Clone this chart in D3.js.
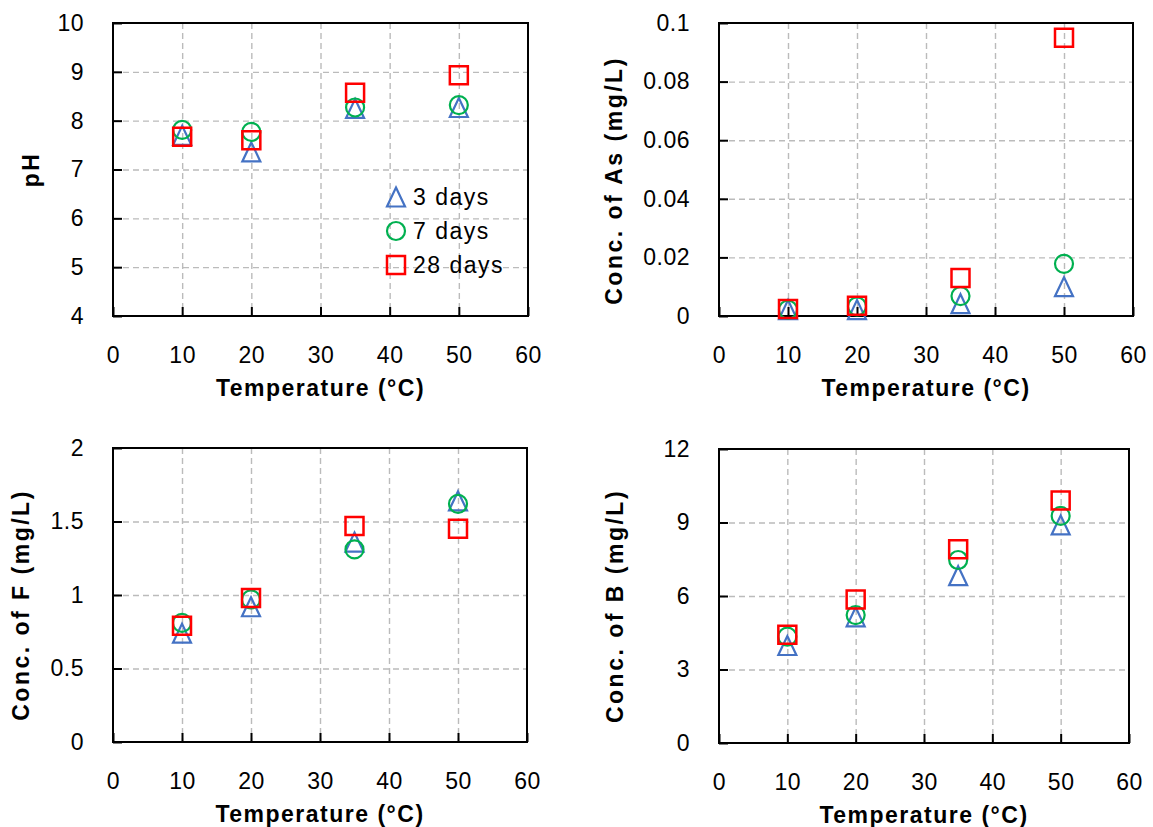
<!DOCTYPE html>
<html>
<head>
<meta charset="utf-8">
<script src="https://cdn.jsdelivr.net/npm/d3@7"></script>
<style>
  body { margin: 0; background: #fff; }
  svg { font-family: "Liberation Sans", Arial, sans-serif; }
  .grid line { stroke: #bbbbbb; stroke-width: 1.4; stroke-dasharray: 6,4; }
  .grid .domain { display: none; }
  .axis .domain { display: none; }
  .axis line { stroke: #000; stroke-width: 2; }
  .axis text { font-size: 23px; fill: #000; letter-spacing: 0.5px; }
  .title { font-size: 23px; font-weight: bold; fill: #000; letter-spacing: 1.5px; }
  .ytitle { letter-spacing: 2.5px; }
</style>
</head>
<body>
<div id="chart"></div>
<script>
'use strict';

// temperatures (deg C) shared by every panel
const temps = [10, 20, 35, 50];
const xTicks = [0, 10, 20, 30, 40, 50, 60];
const seriesNames = ['3 days', '7 days', '28 days'];

// pH
const ph3 = [7.70, 7.36, 8.25, 8.27];
const ph7 = [7.81, 7.77, 8.27, 8.32];
const ph28 = [7.67, 7.60, 8.57, 8.93];
const phTicks = [4, 5, 6, 7, 8, 9, 10];

// As (mg/L)
const as3 = [0.0022, 0.0022, 0.0042, 0.0100];
const as7 = [0.0022, 0.0033, 0.0068, 0.0178];
const as28 = [0.0024, 0.0035, 0.0130, 0.0950];
const asTicks = [0, 0.02, 0.04, 0.06, 0.08, 0.1];

// F (mg/L)
const f3 = [0.74, 0.92, 1.36, 1.64];
const f7 = [0.81, 0.97, 1.31, 1.62];
const f28 = [0.79, 0.98, 1.47, 1.45];
const fTicks = [0, 0.5, 1, 1.5, 2];

// B (mg/L)
const b3 = [3.98, 5.15, 6.83, 8.90];
const b7 = [4.34, 5.22, 7.47, 9.27];
const b28 = [4.42, 5.86, 7.91, 9.90];
const bTicks = [0, 3, 6, 9, 12];

const colors = { tri: '#4472C4', circ: '#00B050', sq: '#FF0000' };

const W = 1153, H = 827;
const svg = d3.select('#chart').append('svg').attr('width', W).attr('height', H);

const markerPath = {
    tri: 'M0,-9.5L9,9.5L-9,9.5Z',
    circ: d3.arc()({ innerRadius: 0, outerRadius: 9, startAngle: 0, endAngle: 2 * Math.PI }),
    sq: 'M-9,-9H9V9H-9Z'
};

const drawMarker = function(g, kind, x, y) {
    g.append('path')
        .attr('d', markerPath[kind])
        .attr('transform', `translate(${x},${y})`)
        .attr('fill', 'none')
        .attr('stroke', colors[kind])
        .attr('stroke-width', kind === 'sq' ? 2.5 : 2.2);
}

const panel = function(opt) {
    const g = svg.append('g').attr('transform', `translate(${opt.left},${opt.top})`);
    const w = opt.width, h = opt.height;

    const x = d3.scaleLinear().domain([0, 60]).range([0, w]);
    const y = d3.scaleLinear().domain(d3.extent(opt.yTicks)).range([h, 0]);

    // dashed grid
    g.append('g').attr('class', 'grid')
        .call(d3.axisBottom(x).tickValues(xTicks.slice(1, -1)).tickSize(h).tickFormat(''));
    g.append('g').attr('class', 'grid')
        .call(d3.axisLeft(y).tickValues(opt.yTicks.slice(1, -1)).tickSize(-w).tickFormat(''));

    // inward ticks + labels
    g.append('g').attr('class', 'axis')
        .attr('transform', `translate(0,${h})`)
        .call(d3.axisBottom(x).tickValues(xTicks).tickSize(-9).tickPadding(39))
        .selectAll('text').attr('dy', '0.35em');
    g.append('g').attr('class', 'axis')
        .call(d3.axisLeft(y).tickValues(opt.yTicks).tickSize(-9).tickPadding(29).tickFormat(d3.format('')));

    g.append('rect')
        .attr('width', w).attr('height', h)
        .attr('fill', 'none').attr('stroke', '#000').attr('stroke-width', 2);

    // markers
    const kinds = ['tri', 'circ', 'sq'];
    opt.series.forEach(function(vals, si) {
        vals.forEach(function(v, i) { drawMarker(g, kinds[si], x(temps[i]), y(v)); });
    });

    // axis titles
    g.append('text').attr('class', 'title')
        .attr('x', w / 2).attr('y', h + 72)
        .attr('dy', '0.35em')
        .attr('text-anchor', 'middle')
        .text('Temperature (°C)');
    g.append('text').attr('class', 'title ytitle')
        .attr('transform', `translate(${opt.yTitleX},${h / 2 + opt.yTitleShift}) rotate(-90)`)
        .attr('dy', '0.35em')
        .attr('text-anchor', 'middle')
        .text(opt.yTitle);

    return { g: g, x: x, y: y };
}

const p1 = panel({ left: 113, top: 23, width: 415, height: 293, yTicks: phTicks,
    series: [ph3, ph7, ph28], yTitle: 'pH', yTitleX: -82, yTitleShift: 0 });
panel({ left: 719, top: 23, width: 414, height: 293, yTicks: asTicks,
    series: [as3, as7, as28], yTitle: 'Conc. of As (mg/L)', yTitleX: -105, yTitleShift: 11 });
panel({ left: 113, top: 448, width: 414, height: 294, yTicks: fTicks,
    series: [f3, f7, f28], yTitle: 'Conc. of F (mg/L)', yTitleX: -92, yTitleShift: 10 });
panel({ left: 719, top: 449, width: 410, height: 294, yTicks: bTicks,
    series: [b3, b7, b28], yTitle: 'Conc. of B (mg/L)', yTitleX: -104, yTitleShift: 10 });

// legend inside the pH panel
const legend = p1.g.append('g').attr('transform', 'translate(283,174)');
['tri', 'circ', 'sq'].forEach(function(k, i) {
    drawMarker(legend, k, 0, i * 34);
    legend.append('text')
        .attr('x', 17).attr('y', i * 34)
        .attr('dy', '0.35em')
        .style('font-size', '23px')
        .style('letter-spacing', '1.5px')
        .text(seriesNames[i]);
});
</script>
</body>
</html>
